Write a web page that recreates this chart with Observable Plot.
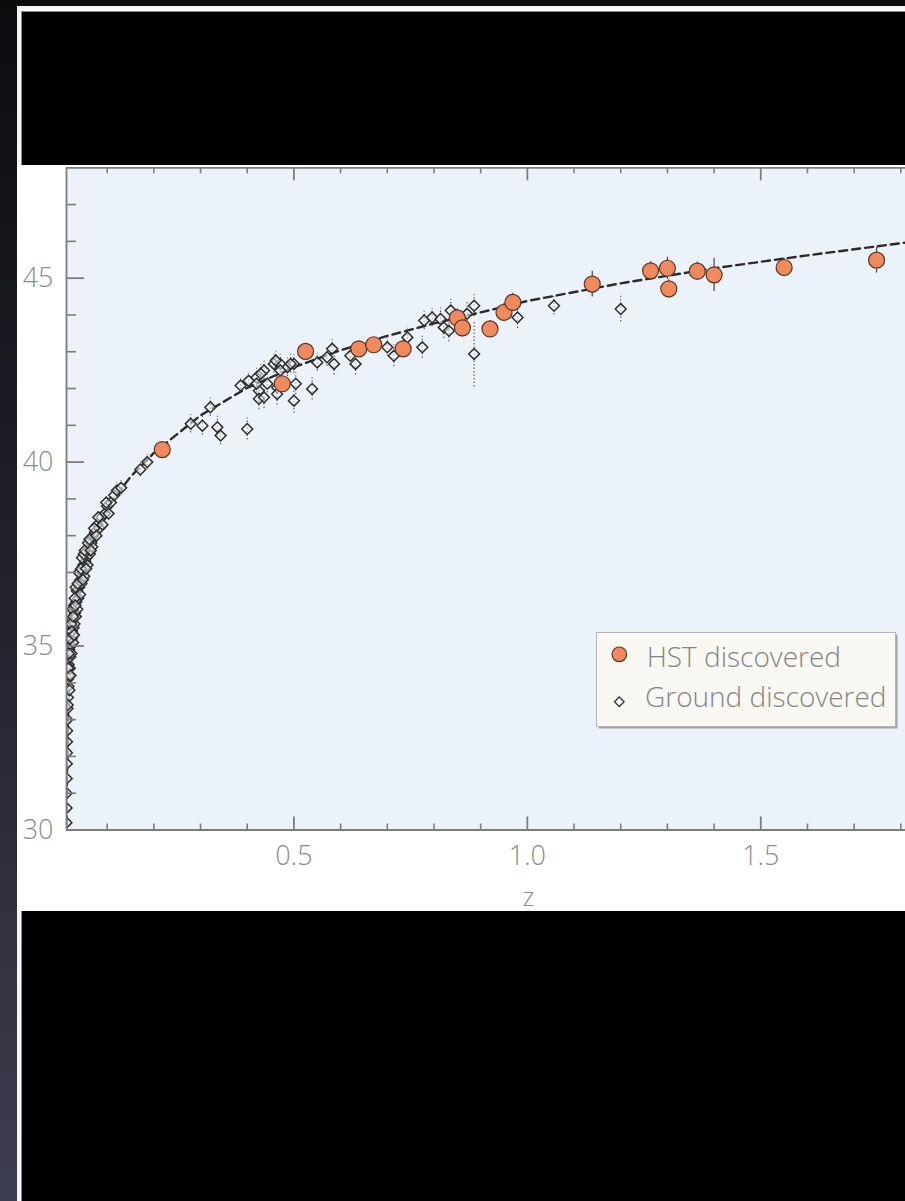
<!DOCTYPE html>
<html><head><meta charset="utf-8">
<script src="https://cdn.jsdelivr.net/npm/d3@7"></script>
<script src="https://cdn.jsdelivr.net/npm/@observablehq/plot@0.6"></script>
<style>
html,body{margin:0;padding:0;width:905px;height:1201px;overflow:hidden;background:linear-gradient(#0c0c0f,#20202a 45%,#3d3d50);}
#frame{position:absolute;left:17px;top:6px;width:900px;height:1210px;border-left:3px solid #f4f4f4;border-top:3px solid #f4f4f4;background:#fff;box-sizing:border-box}
#topband{position:absolute;left:21px;top:11px;width:900px;height:154.5px;background:#000;border-left:1px solid #888;border-top:1px solid #888;box-sizing:border-box}
#botband{position:absolute;left:21px;top:911px;width:900px;height:300px;background:#000;border-left:1px solid #888;box-sizing:border-box}
#chart{position:absolute;left:17px;top:165px;}
</style></head><body>
<div id="frame"></div><div id="topband"></div><div id="botband"></div>
<div id="chart"></div>
<script>
// ---- data ----
const hstZ   = [0.218, 0.475, 0.525, 0.639, 0.671, 0.734, 0.85, 0.861, 0.92, 0.95, 0.969, 1.139, 1.264, 1.30, 1.303, 1.364, 1.40, 1.55, 1.748];
const hstMu  = [40.34, 42.13, 43.01, 43.08, 43.19, 43.08, 43.92, 43.65, 43.62, 44.07, 44.34, 44.84, 45.20, 45.27, 44.71, 45.19, 45.09, 45.29, 45.49];
const hstErr = [0.20, 0.20, 0.22, 0.20, 0.20, 0.22, 0.25, 0.25, 0.22, 0.25, 0.25, 0.35, 0.25, 0.30, 0.25, 0.25, 0.45, 0.25, 0.35];

const groundZ = [
  0.0128,0.013,0.0131,0.0133,0.0135,0.0137,0.014,0.0142,0.0145,0.015,
  0.016,0.017,0.0155,0.018,0.019,0.0175,0.02,0.021,0.019,0.022,0.0235,0.024,0.021,0.026,0.027,0.028,0.025,0.03,0.031,0.029,
  0.033,0.034,0.036,0.035,0.038,0.04,0.042,0.043,0.041,0.045,0.047,0.049,0.051,0.053,0.056,0.058,0.06,0.063,0.066,0.07,
  0.068,0.074,0.079,0.083,0.088,0.095,0.1,0.108,0.115,
  0.0155,0.0165,0.018,0.02,0.0215,0.023,0.0245,0.0255,0.027,0.029,0.0305,0.032,0.0325,0.037,0.039,
  0.044,0.046,0.048,0.05,0.052,0.055,0.059,0.062,0.065,0.072,0.077,0.081,0.09,0.098,0.103,
  0.121,0.13,0.171,0.186,0.279,0.304,0.321,0.336,0.343,0.40,0.386,0.403,0.42,0.425,0.425,0.436,0.443,0.457,0.464,0.471,
  0.486,0.50,0.50,0.504,0.42,0.429,0.436,0.461,0.471,0.464,0.493,0.539,0.55,0.571,0.582,0.586,0.621,0.632,0.70,0.714,
  0.743,0.775,0.779,0.796,0.814,0.821,0.832,0.836,0.871,0.886,0.886,0.979,1.057,1.20
];
const groundMu = [
  30.2,30.6,31.0,31.4,31.8,32.1,32.4,32.7,33.0,33.3,
  33.6,33.9,34.1,34.2,33.8,34.5,34.4,34.7,34.9,35.0,34.8,35.2,35.4,35.3,35.1,35.5,35.7,35.6,35.9,36.1,
  35.8,36.2,36.0,36.5,36.3,36.6,36.4,36.8,37.0,36.7,37.0,37.2,36.9,37.3,37.4,37.2,37.6,37.5,37.8,38.0,
  37.7,38.1,38.3,38.2,38.5,38.6,38.8,38.9,39.1,
  33.4,34.4,34.8,35.2,34.2,35.6,35.4,36.0,35.8,35.3,36.3,36.1,36.6,36.7,37.0,
  37.1,37.4,36.8,37.5,37.6,37.1,37.8,37.9,37.6,38.2,38.0,38.5,38.3,38.9,38.6,
  39.23,39.3,39.8,40.0,41.04,40.99,41.49,40.95,40.72,40.9,42.08,42.21,42.3,41.94,41.72,42.49,42.13,42.67,42.03,42.67,
  42.58,42.67,41.67,42.13,42.13,42.4,41.76,42.76,42.49,41.85,42.67,41.99,42.71,42.85,43.08,42.67,42.89,42.67,43.12,42.89,
  43.39,43.12,43.85,43.93,43.89,43.66,43.57,44.12,44.03,44.25,42.94,43.93,44.25,44.16
];
const groundErr = [
  0.15,0.15,0.15,0.15,0.15,0.15,0.15,0.15,0.15,0.15,
  0.15,0.15,0.15,0.15,0.15,0.15,0.15,0.15,0.15,0.15,0.15,0.15,0.15,0.15,0.15,0.15,0.15,0.15,0.15,0.15,
  0.15,0.15,0.15,0.15,0.15,0.15,0.15,0.15,0.15,0.15,0.15,0.15,0.15,0.15,0.15,0.15,0.15,0.15,0.15,0.15,
  0.15,0.15,0.15,0.15,0.15,0.15,0.18,0.18,0.18,
  0.15,0.15,0.15,0.15,0.15,0.15,0.15,0.15,0.15,0.15,0.15,0.15,0.15,0.15,0.15,
  0.15,0.15,0.15,0.15,0.15,0.15,0.15,0.15,0.15,0.15,0.15,0.15,0.15,0.18,0.18,
  0.2,0.2,0.2,0.2,0.25,0.25,0.25,0.3,0.25,0.3,0.2,0.2,0.25,0.3,0.3,0.25,0.25,0.25,0.3,0.25,
  0.25,0.25,0.35,0.3,0.25,0.25,0.3,0.25,0.25,0.3,0.25,0.3,0.25,0.25,0.25,0.3,0.25,0.3,0.25,0.3,
  0.25,0.3,0.25,0.25,0.3,0.3,0.3,0.3,0.3,0.3,0.9,0.3,0.25,0.35
];

const curveZ  = [0.0128, 0.014, 0.016, 0.018, 0.0214, 0.0268, 0.034, 0.043, 0.054, 0.069, 0.086, 0.111, 0.15, 0.2, 0.3, 0.4, 0.5, 0.6, 0.7, 0.8, 0.9, 1.0, 1.2, 1.4, 1.6, 1.8, 1.85];
const curveMu = [29.8, 31.6, 33.0, 33.9, 34.5, 35.15, 35.8, 36.5, 37.3, 37.85, 38.35, 38.95, 39.6, 40.25, 41.27, 42.02, 42.58, 43.04, 43.43, 43.77, 44.07, 44.38, 44.86, 45.27, 45.62, 45.95, 46.02];

const xDomain = [0.0129, 1.81];
const yDomain = [30, 48];
const xTicksMinor = [0.1,0.2,0.3,0.4,0.6,0.7,0.8,0.9,1.1,1.2,1.3,1.4,1.6,1.7,1.8];
const xTicksMajor = [0.5, 1.0, 1.5];
const xTickLabels = ["0.5", "1.0", "1.5"];
const yTicksMinor = [31,32,33,34,36,37,38,39,41,42,43,44,46,47];
const yTicksMajor = [30, 35, 40, 45];
const yTickLabels = ["30", "35", "40", "45"];
const xLabel = "z";
const legendLabels = ["HST discovered", "Ground discovered"];

// ---- tables ----
const hst = hstZ.map((z, i) => ({z, mu: hstMu[i], err: hstErr[i]}));
const ground = groundZ.map((z, i) => ({z, mu: groundMu[i], err: groundErr[i]}));
const curve = curveZ.map((z, i) => ({z, mu: curveMu[i]}));

const W = 888, H = 746, mL = 49, mR = 0, mT = 2.3, mB = 81.5;
const pW = W - mL - mR, pH = H - mT - mB;
const axisColor = "#7c7c7c";
const font = "'Open Sans', sans-serif";

const chart = Plot.plot({
  width: W, height: H,
  marginLeft: mL, marginRight: mR, marginTop: mT, marginBottom: mB,
  style: {fontFamily: font, fontSize: "27px", fontWeight: 300, color: "#8b8b8b", background: "#fff", overflow: "visible"},
  x: {domain: xDomain},
  y: {domain: yDomain},
  marks: [
    Plot.frame({fill: "#ecf2fa", stroke: null}),
    Plot.ruleX(ground, {x: "z", y1: d => d.mu - d.err, y2: d => d.mu + d.err, stroke: "#555", strokeWidth: 1.1, strokeDasharray: "1.5,2", clip: true}),
    Plot.line(curve, {x: "z", y: "mu", stroke: "#2b2b2b", strokeWidth: 2.4, strokeDasharray: "8,5", clip: true}),
    Plot.dot(ground, {x: "z", y: "mu", symbol: "diamond2", r: 4.9, stroke: "#2e2e2e", strokeWidth: 1.5, fill: "#f4f7fb", fillOpacity: 0.55, clip: true}),
    Plot.ruleX(hst, {x: "z", y1: d => d.mu - d.err, y2: d => d.mu + d.err, stroke: "#444", strokeWidth: 1.2, clip: true}),
    Plot.dot(hst, {x: "z", y: "mu", r: 8, fill: "#f08a5e", stroke: "#5a3626", strokeWidth: 1.2, clip: true}),
    // frame lines
    Plot.ruleY([yDomain[0]], {stroke: axisColor, strokeWidth: 1.8}),
    Plot.ruleY([yDomain[1]], {stroke: axisColor, strokeWidth: 1.8}),
    Plot.ruleX([xDomain[0]], {stroke: axisColor, strokeWidth: 1.8}),
    // inward ticks
    Plot.tickX(xTicksMinor, {x: d => d, insetTop: pH - 6, stroke: axisColor, strokeWidth: 1.6}),
    Plot.tickX(xTicksMajor, {x: d => d, insetTop: pH - 13, stroke: axisColor, strokeWidth: 1.8}),
    Plot.tickX(xTicksMinor, {x: d => d, insetBottom: pH - 6, stroke: axisColor, strokeWidth: 1.6}),
    Plot.tickX(xTicksMajor, {x: d => d, insetBottom: pH - 13, stroke: axisColor, strokeWidth: 1.8}),
    Plot.tickY(yTicksMinor, {y: d => d, insetRight: pW - 10, stroke: axisColor, strokeWidth: 1.6}),
    Plot.tickY(yTicksMajor, {y: d => d, insetRight: pW - 18, stroke: axisColor, strokeWidth: 1.8}),
    // labels
    Plot.axisX({ticks: xTicksMajor, tickSize: 0, tickPadding: 16, tickFormat: d => xTickLabels[xTicksMajor.indexOf(d)], label: null}),
    Plot.axisY({ticks: yTicksMajor, tickSize: 0, tickPadding: 13, tickFormat: d => yTickLabels[yTicksMajor.indexOf(d)], label: null}),
    Plot.text([xLabel], {text: d => d, frameAnchor: "bottom", dx: 42.5, dy: 76, fontSize: 25})
  ]
});
document.getElementById("chart").appendChild(chart);

// ---- legend (inside the plot area) ----
const lg = d3.select("#chart").append("svg")
  .attr("width", 306).attr("height", 100)
  .style("position", "absolute").style("left", "578px").style("top", "466px")
  .style("font-family", font).style("font-weight", 300).style("font-size", "28px");
lg.append("rect").attr("x", 3.5).attr("y", 3.5).attr("width", 299).attr("height", 94).attr("fill", "#a3a3a3");
lg.append("rect").attr("x", 1.5).attr("y", 1.5).attr("width", 299).attr("height", 94).attr("fill", "#faf8f3").attr("stroke", "#b5b5b5").attr("stroke-width", 1);
lg.append("circle").attr("cx", 24.3).attr("cy", 23.3).attr("r", 7.3).attr("fill", "#f08a5e").attr("stroke", "#5a3626").attr("stroke-width", 1.2);
lg.append("path").attr("d", d3.symbol(d3.symbolDiamond2, Math.PI * 4.3 * 4.3)()).attr("transform", "translate(24.3,70.7)")
  .attr("fill", "#fff").attr("stroke", "#333").attr("stroke-width", 1.3);
lg.append("text").attr("x", 51.7).attr("y", 35.7).attr("fill", "#858585").text(legendLabels[0]);
lg.append("text").attr("x", 50).attr("y", 76).attr("fill", "#858585").text(legendLabels[1]);
</script>
</body></html>
